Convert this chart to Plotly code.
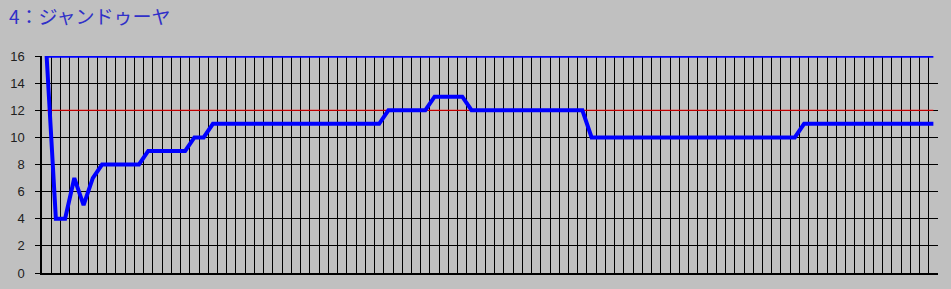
import plotly.graph_objects as go

# ---- data ----
title_text = "4：ジャンドゥーヤ"
categories = [str(i) for i in range(1, 98)]          # 97 sample slots
values = [16, 4, 4, 7, 5, 7,
          8, 8, 8, 8, 8,
          9, 9, 9, 9, 9,
          10, 10,
          11, 11, 11, 11, 11, 11, 11, 11, 11, 11, 11, 11, 11, 11, 11, 11, 11, 11, 11,
          12, 12, 12, 12, 12,
          13, 13, 13, 13,
          12, 12, 12, 12, 12, 12, 12, 12, 12, 12, 12, 12, 12,
          10, 10, 10, 10, 10, 10, 10, 10, 10, 10, 10, 10, 10, 10, 10, 10, 10, 10, 10, 10, 10, 10, 10,
          11, 11, 11, 11, 11, 11, 11, 11, 11, 11, 11, 11, 11, 11, 11]
target_level = 12
upper_level = 16
y_ticks = [0, 2, 4, 6, 8, 10, 12, 14, 16]

target_line = [target_level] * len(categories)
upper_line = [upper_level] * len(categories)

W, H = 951, 289
L, R, T, B = 42, 13, 56, 16

fig = go.Figure()
fig.add_trace(go.Scatter(x=categories, y=target_line, mode="lines",
                         line=dict(color="#FF0000", width=1), hoverinfo="skip"))
fig.add_trace(go.Scatter(x=categories, y=upper_line, mode="lines",
                         line=dict(color="#0000FF", width=3.5), hoverinfo="skip"))
fig.add_trace(go.Scatter(x=categories, y=values, mode="lines",
                         line=dict(color="#0000FF", width=4), hoverinfo="skip"))

fig.update_layout(
    width=W, height=H,
    margin=dict(l=L, r=R, t=T, b=B, pad=0, autoexpand=False),
    paper_bgcolor="#C0C0C0", plot_bgcolor="#C0C0C0",
    showlegend=False,
    title=dict(text=title_text, x=9 / W, xanchor="left", xref="container",
               y=1 - 17 / H, yanchor="middle", yref="container",
               font=dict(family="Noto Sans CJK JP", size=19, color="#3030C8")),
)
fig.update_xaxes(type="category", tickson="boundaries", tickmode="array",
                 tickvals=categories, showticklabels=False,
                 ticks="", showgrid=True, gridcolor="#000000", gridwidth=1.4,
                 showline=True, linecolor="#000000", linewidth=1.5, mirror=False,
                 zeroline=False, automargin=False,
                 range=[-0.5, len(categories) - 0.5])
fig.update_yaxes(range=[0, 16], tickmode="array", tickvals=y_ticks,
                 ticktext=[str(v) for v in y_ticks],
                 ticks="outside", ticklen=5, tickcolor="#000000", tickwidth=1.4,
                 showgrid=True, gridcolor="#000000", gridwidth=1.4,
                 showline=True, linecolor="#000000", linewidth=1.5,
                 zeroline=False, automargin=False, ticklabelstandoff=8,
                 tickfont=dict(family="Liberation Sans", size=13, color="#202020"))

fig.write_html("out.html")
